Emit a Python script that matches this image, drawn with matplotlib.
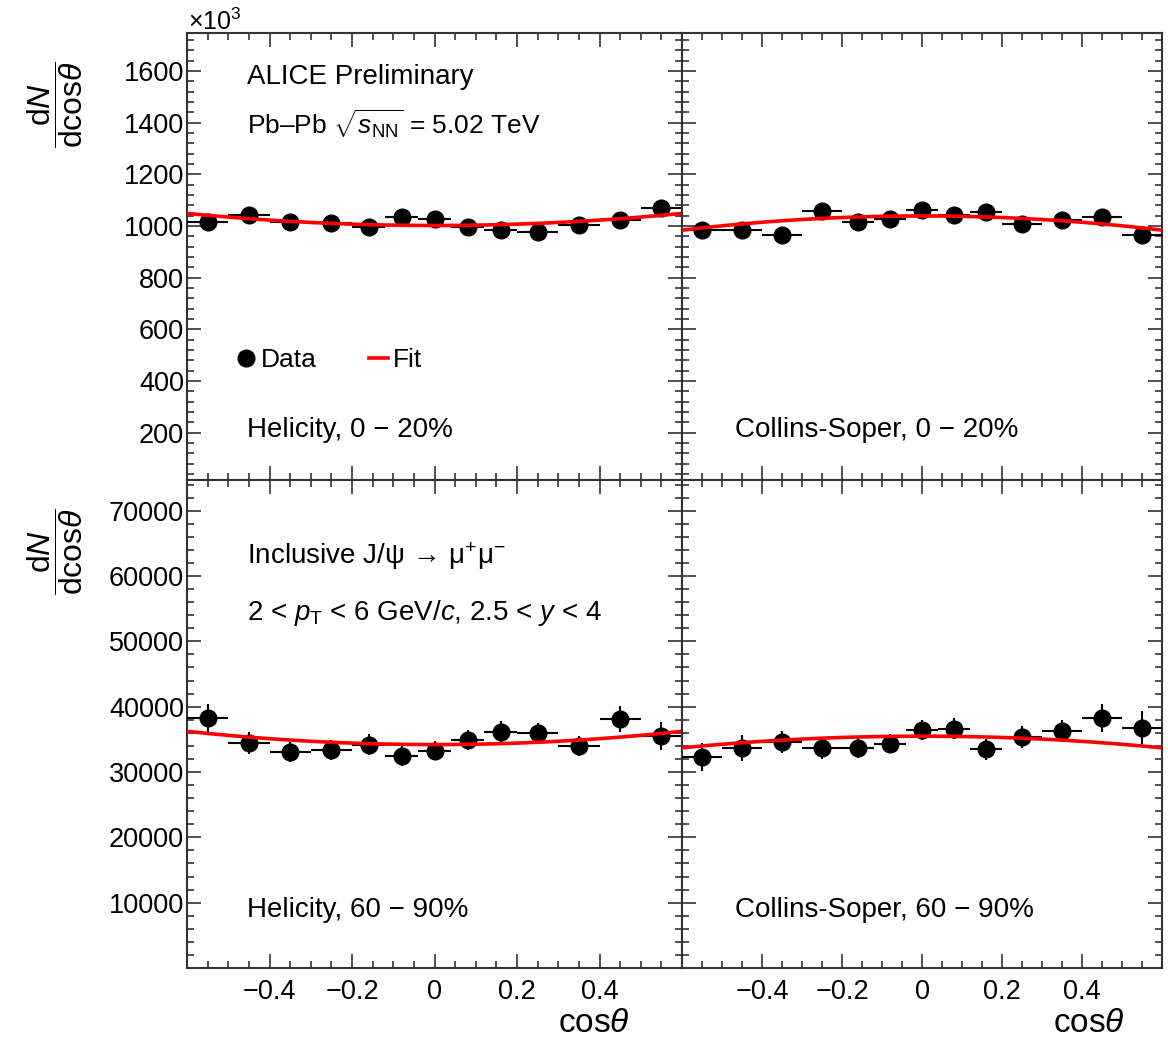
import numpy as np
import matplotlib
matplotlib.use('Agg')
import matplotlib.pyplot as plt
from matplotlib.ticker import MultipleLocator, FuncFormatter
from matplotlib.lines import Line2D

plt.rcParams['font.family'] = ['Liberation Sans', 'DejaVu Sans']
plt.rcParams['mathtext.fontset'] = 'custom'
plt.rcParams['mathtext.rm'] = 'Liberation Sans'
plt.rcParams['mathtext.it'] = 'Liberation Sans:italic'
plt.rcParams['mathtext.bf'] = 'Liberation Sans:bold'

# cos(theta) binning and bin centres
bin_edges = [-0.6, -0.5, -0.4, -0.3, -0.2, -0.12, -0.04, 0.04, 0.12, 0.2, 0.3, 0.4, 0.5, 0.6]
cos_centers = [-0.55, -0.45, -0.35, -0.25, -0.16, -0.08, 0.0, 0.08, 0.16, 0.25, 0.35, 0.45, 0.55]

# 0-20% (values in units of 10^3)
hel_0_20 = [1016, 1042, 1017, 1013, 997, 1036, 1027, 995, 985, 978, 1004, 1023, 1068]
hel_0_20_err = [22, 22, 20, 20, 20, 20, 20, 20, 20, 20, 20, 22, 24]
cs_0_20 = [985, 985, 965, 1059, 1017, 1027, 1062, 1043, 1053, 1007, 1023, 1036, 966]
cs_0_20_err = [28, 28, 26, 30, 28, 28, 32, 30, 30, 28, 28, 30, 32]

# 60-90%
hel_60_90 = [38200, 34500, 33100, 33350, 34200, 32450, 33250, 34950, 36150, 35900, 34000, 38100, 35550]
hel_60_90_err = [2150, 1700, 1550, 1550, 1550, 1500, 1450, 1550, 1700, 1550, 1550, 2050, 2150]
cs_60_90 = [32300, 33700, 34600, 33600, 33700, 34350, 36400, 36650, 33450, 35300, 36300, 38300, 36800]
cs_60_90_err = [2100, 2000, 1650, 1550, 1550, 1500, 1550, 1550, 1650, 1700, 1650, 2100, 2500]

# fit parameters: N * (1 + lambda * cos^2)
fit_norm = {'hel_0_20': 1002, 'cs_0_20': 1039, 'hel_60_90': 34200, 'cs_60_90': 35490}
fit_lambda = {'hel_0_20': 0.13, 'cs_0_20': -0.147, 'hel_60_90': 0.165, 'cs_60_90': -0.14}

W, H = 1168, 1037
fig = plt.figure(figsize=(W / 100, H / 100), dpi=100)


def px_axes(x0, x1, y0, y1):
    # pixel box (top-left origin) -> figure axes
    return fig.add_axes([x0 / W, 1 - y1 / H, (x1 - x0) / W, (y1 - y0) / H])


ax_tl = px_axes(187, 682, 33, 480)
ax_tr = px_axes(682, 1162, 33, 480)
ax_bl = px_axes(187, 682, 480, 968)
ax_br = px_axes(682, 1162, 480, 968)

edges = np.array(bin_edges)
xc = np.array(cos_centers)
xerr = [xc - edges[:-1], edges[1:] - xc]
xx = np.linspace(-0.6, 0.6, 200)


def minus_fmt(v, pos):
    s = '%g' % round(v, 6)
    if s == '-0':
        s = '0'
    return s.replace('-', '\u2212')


def draw_panel(ax, y, yerr, key, ylim, ymaj, ymin, show_x, show_y):
    ax.errorbar(xc, y, xerr=xerr, yerr=yerr, fmt='o', color='black', ms=12,
                elinewidth=1.5, capsize=0, zorder=3)
    ax.plot(xx, fit_norm[key] * (1 + fit_lambda[key] * xx ** 2), color='#ff0000', lw=2.6, zorder=4)
    ax.set_xlim(-0.6, 0.6)
    ax.set_ylim(*ylim)
    ax.xaxis.set_major_locator(MultipleLocator(0.2))
    ax.xaxis.set_minor_locator(MultipleLocator(0.05))
    ax.yaxis.set_major_locator(MultipleLocator(ymaj))
    ax.yaxis.set_minor_locator(MultipleLocator(ymin))
    ax.xaxis.set_major_formatter(FuncFormatter(minus_fmt))
    ax.yaxis.set_major_formatter(FuncFormatter(minus_fmt))
    ax.tick_params(which='both', direction='in', top=True, right=True, width=1.2,
                   color='#333333', labelsize=19.5)
    ax.tick_params(which='major', length=10)
    ax.tick_params(which='minor', length=5)
    ax.tick_params(axis='x', pad=8, labelbottom=show_x)
    ax.tick_params(axis='y', pad=2, labelleft=show_y)
    for sp in ax.spines.values():
        sp.set_linewidth(1.5)
        sp.set_color('#333333')


draw_panel(ax_tl, hel_0_20, hel_0_20_err, 'hel_0_20', (17, 1747), 200, 40, False, True)
draw_panel(ax_tr, cs_0_20, cs_0_20_err, 'cs_0_20', (17, 1747), 200, 40, False, False)
draw_panel(ax_bl, hel_60_90, hel_60_90_err, 'hel_60_90', (0, 74700), 10000, 2000, True, True)
draw_panel(ax_br, cs_60_90, cs_60_90_err, 'cs_60_90', (0, 74700), 10000, 2000, True, False)

# hide the x tick labels at the edges (ROOT style shows only -0.4..0.4)
for ax in (ax_bl, ax_br):
    for lab, v in zip(ax.get_xticklabels(), ax.get_xticks()):
        if abs(v) > 0.5:
            lab.set_visible(False)
for ax in (ax_tl, ax_bl):
    ax.set_yticks([t for t in ax.get_yticks() if t > ax.get_ylim()[0] + 1e-6 and t < ax.get_ylim()[1]])

fs = 20
ax_tl.text(0.121, 0.885, 'ALICE Preliminary', transform=ax_tl.transAxes, fontsize=fs, va='baseline')
ax_tl.text(0.121, 0.773, 'Pb\u2013Pb $\\sqrt{s_{\\mathrm{NN}}}$ = 5.02 TeV', transform=ax_tl.transAxes,
           fontsize=19, va='baseline')
ax_tl.text(0.121, 0.097, 'Helicity, 0 \u2212 20%', transform=ax_tl.transAxes, fontsize=fs, va='baseline')
ax_tr.text(0.110, 0.097, 'Collins-Soper, 0 \u2212 20%', transform=ax_tr.transAxes, fontsize=fs, va='baseline')
ax_bl.text(0.121, 0.827, 'Inclusive J/\u03c8$\\,\\rightarrow\\,$\u03bc$^{+}$\u03bc$^{-}$', transform=ax_bl.transAxes,
           fontsize=fs, va='baseline')
ax_bl.text(0.121, 0.714, '2 < $p_{\\mathrm{T}}$ < 6 GeV/$c$, 2.5 < $y$ < 4', transform=ax_bl.transAxes,
           fontsize=fs, va='baseline')
ax_bl.text(0.121, 0.1055, 'Helicity, 60 \u2212 90%', transform=ax_bl.transAxes, fontsize=fs, va='baseline')
ax_br.text(0.110, 0.1055, 'Collins-Soper, 60 \u2212 90%', transform=ax_br.transAxes, fontsize=fs, va='baseline')

handles = [Line2D([], [], marker='o', color='black', ls='none', ms=12),
           Line2D([], [], color='#ff0000', lw=2.6)]
ax_tl.legend(handles, ['Data', 'Fit'], loc='center left', bbox_to_anchor=(0.101, 0.2685), ncol=2,
             frameon=False, fontsize=19, handlelength=0.7, handletextpad=0.2, columnspacing=2.0,
             borderpad=0, borderaxespad=0)

# axis titles
ylab = r'$\dfrac{\mathrm{d}N}{\mathrm{dcos}\theta}$'
fig.text(55 / W, 1 - 105 / H, ylab, rotation=90, fontsize=23, ha='center', va='center')
fig.text(55 / W, 1 - 552 / H, ylab, rotation=90, fontsize=23, ha='center', va='center')
fig.text(630 / W, 1 - 1023 / H, r'$\mathrm{cos}\theta$', fontsize=24, ha='right', va='center')
fig.text(1125 / W, 1 - 1023 / H, r'$\mathrm{cos}\theta$', fontsize=24, ha='right', va='center')
fig.text(188 / W, 1 - 22 / H, '\u00d710$^{3}$', fontsize=18, ha='left', va='center')

fig.savefig('out.png', dpi=100)
